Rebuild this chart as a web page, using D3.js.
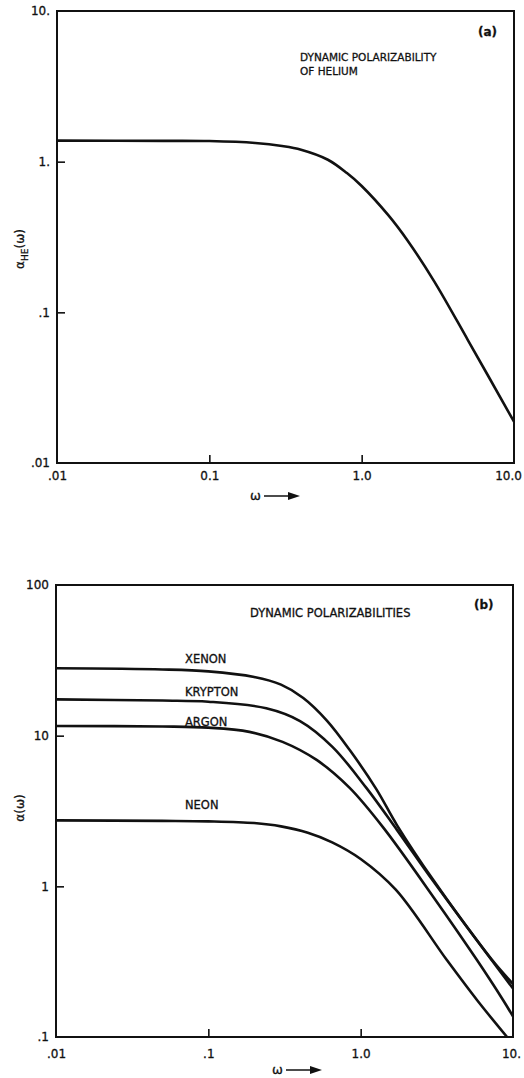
<!DOCTYPE html>
<html lang="en">
<head>
    <meta charset="UTF-8">
    <script src="https://d3js.org/d3.v7.min.js"></script>
    <title>Dynamic polarizabilities</title>
    <style>
        body { margin: 0; background: white; }
        svg text { font-family: "DejaVu Sans", sans-serif; fill: #111; stroke: #111; stroke-width: 0.3px; }
        .curve { fill: none; stroke: #111; stroke-width: 2.6px; stroke-linejoin: round; }
        .frame { fill: none; stroke: #111; stroke-width: 2px; }
        .tick line { stroke: #111; stroke-width: 1.6px; }
    </style>
</head>
<body>
<div id="chart"></div>
<script>
    // panel (a): helium
    const heOmega = [0.01, 0.05, 0.1, 0.2, 0.3, 0.4, 0.6, 0.8, 1.0, 1.5, 2.0, 3.0, 5.0, 10.0];
    const heAlpha = [1.38, 1.375, 1.37, 1.33, 1.27, 1.20, 1.03, 0.84, 0.69, 0.44, 0.30, 0.160, 0.065, 0.0188];

    // panel (b): rare gases
    const xenonOmega = [0.01, 0.05, 0.1, 0.2, 0.3, 0.42, 0.6, 0.85, 1.27, 1.73, 3.0, 7.28, 10.0];
    const xenonAlpha = [28.0, 27.5, 26.7, 24.5, 21.8, 17.8, 12.6, 8.0, 4.4, 2.55, 1.10, 0.325, 0.225];
    const kryptonOmega = [0.01, 0.05, 0.1, 0.24, 0.4, 0.655, 1.09, 1.73, 3.0, 7.28, 10.0];
    const kryptonAlpha = [17.4, 17.1, 16.8, 15.2, 12.5, 8.4, 4.5, 2.37, 1.08, 0.322, 0.21];
    const argonOmega = [0.01, 0.05, 0.1, 0.186, 0.307, 0.514, 0.847, 1.4, 3.0, 5.8, 8.6, 10.0];
    const argonAlpha = [11.6, 11.5, 11.3, 10.6, 9.1, 6.9, 4.5, 2.47, 0.85, 0.324, 0.176, 0.137];
    const neonOmega = [0.01, 0.05, 0.1, 0.2, 0.3, 0.45, 0.65, 1.0, 1.7, 3.68, 5.8, 9.14];
    const neonAlpha = [2.74, 2.72, 2.70, 2.63, 2.50, 2.27, 1.96, 1.52, 0.95, 0.324, 0.176, 0.1];

    const seriesNames = ["XENON", "KRYPTON", "ARGON", "NEON"];

    const topXTicks = [0.01, 0.1, 1, 10];
    const topXLabels = [".01", "0.1", "1.0", "10.0"];
    const topYTicks = [0.01, 0.1, 1, 10];
    const topYLabels = [".01", ".1", "1.", "10."];
    const botXTicks = [0.01, 0.1, 1, 10];
    const botXLabels = [".01", ".1", "1.0", "10."];
    const botYTicks = [0.1, 1, 10, 100];
    const botYLabels = [".1", "1", "10", "100"];

    const width = 524, height = 1078;
    const svg = d3.select("#chart").append("svg")
        .attr("width", width)
        .attr("height", height);

    const drawPanel = (p) => {
        const x = d3.scaleLog().domain([0.01, 10]).range([p.left, p.right]);
        const y = d3.scaleLog().domain(p.yDomain).range([p.bottom, p.top]);
        const g = svg.append("g");

        // tick labels (no tick marks)
        g.append("g")
            .attr("transform", `translate(0,${p.bottom})`)
            .call(d3.axisBottom(x).tickValues(p.xTicks).tickSize(0).tickPadding(p.xPad)
                .tickFormat((d, i) => p.xLabels[i]))
            .call(a => a.select(".domain").remove())
            .selectAll("text").style("font-size", "12px")
            .attr("dx", (d, i) => i === p.xTicks.length - 1 ? p.lastShift : 0);
        g.append("g")
            .attr("transform", `translate(${p.left},0)`)
            .call(d3.axisLeft(y).tickValues(p.yTicks).tickSize(0).tickPadding(7)
                .tickFormat((d, i) => p.yLabels[i]))
            .call(a => a.select(".domain").remove())
            .selectAll("text").style("font-size", "12px");

        // inner tick marks
        g.append("g")
            .attr("transform", `translate(0,${p.bottom})`)
            .call(d3.axisBottom(x).tickValues(p.xTicks.slice(1, -1)).tickSize(-8).tickFormat(""))
            .call(a => a.select(".domain").remove());
        g.append("g")
            .attr("transform", `translate(${p.left},0)`)
            .call(d3.axisLeft(y).tickValues(p.yTicks.slice(1, -1)).tickSize(-8).tickFormat(""))
            .call(a => a.select(".domain").remove());

        g.append("rect").attr("class", "frame")
            .attr("x", p.left).attr("y", p.top)
            .attr("width", p.right - p.left).attr("height", p.bottom - p.top);

        const line = d3.line()
            .x(d => x(d[0]))
            .y(d => y(d[1]))
            .curve(d3.curveCatmullRom.alpha(0.5));

        p.series.forEach(s => {
            g.append("path").attr("class", "curve")
                .attr("d", line(d3.zip(s.w, s.a)));
        });

        // omega arrow label
        const ax = p.arrowX, ay = p.arrowY;
        g.append("text").attr("x", ax).attr("y", ay)
            .style("font-size", "13px").text("\u03c9");
        g.append("line").attr("x1", ax + 14).attr("x2", ax + 40)
            .attr("y1", ay - 4).attr("y2", ay - 4)
            .attr("stroke", "#111").attr("stroke-width", 1.5);
        g.append("path")
            .attr("d", `M${ax + 50},${ay - 4}L${ax + 38},${ay - 8}L${ax + 38},${ay}Z`)
            .attr("fill", "#111");
        return { x, y, g };
    };

    // panel (a)
    const pa = drawPanel({
        left: 57, right: 514, top: 11, bottom: 463,
        yDomain: [0.01, 10],
        xTicks: topXTicks, xLabels: topXLabels, xPad: 8, lastShift: -6,
        yTicks: topYTicks, yLabels: topYLabels,
        series: [{ w: heOmega, a: heAlpha }],
        arrowX: 250, arrowY: 500
    });
    pa.g.append("text").attr("x", 300).attr("y", 61).style("font-size", "10.5px").text("DYNAMIC POLARIZABILITY");
    pa.g.append("text").attr("x", 300).attr("y", 75).style("font-size", "10.5px").text("OF HELIUM");
    pa.g.append("text").attr("x", 478).attr("y", 36).style("font-size", "12px").style("font-weight", "bold").text("(a)");
    pa.g.append("text")
        .attr("transform", "translate(24,249) rotate(-90)")
        .attr("text-anchor", "middle")
        .style("font-size", "12px")
        .html('\u03b1<tspan dy="4" font-size="9">HE</tspan><tspan dy="-4">(\u03c9)</tspan>');

    // panel (b)
    const pb = drawPanel({
        left: 56, right: 513, top: 585, bottom: 1037,
        yDomain: [0.1, 100],
        xTicks: botXTicks, xLabels: botXLabels, xPad: 12, lastShift: -2,
        yTicks: botYTicks, yLabels: botYLabels,
        series: [
            { w: xenonOmega, a: xenonAlpha },
            { w: kryptonOmega, a: kryptonAlpha },
            { w: argonOmega, a: argonAlpha },
            { w: neonOmega, a: neonAlpha }
        ],
        arrowX: 272, arrowY: 1074
    });
    pb.g.append("text").attr("x", 250).attr("y", 617).style("font-size", "11.5px").text("DYNAMIC POLARIZABILITIES");
    pb.g.append("text").attr("x", 474).attr("y", 609).style("font-size", "12px").style("font-weight", "bold").text("(b)");
    const nameY = [663, 696, 726, 809];
    pb.g.selectAll(".name").data(seriesNames).enter().append("text")
        .attr("x", 185).attr("y", (d, i) => nameY[i])
        .style("font-size", "11.5px").text(d => d);
    pb.g.append("text")
        .attr("transform", "translate(24,808) rotate(-90)")
        .attr("text-anchor", "middle")
        .style("font-size", "12px")
        .text("\u03b1(\u03c9)");
</script>
</body>
</html>
